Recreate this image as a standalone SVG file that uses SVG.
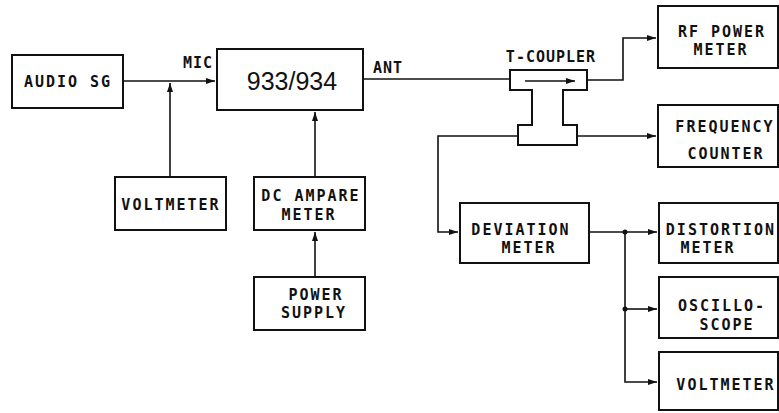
<svg xmlns="http://www.w3.org/2000/svg" width="779" height="413" viewBox="0 0 779 413">
<style>
.box{fill:#fff;stroke:#111;stroke-width:2}
.ln{fill:none;stroke:#111;stroke-width:1.6}
.t{font-family:"DejaVu Sans Mono","Liberation Mono",monospace;font-weight:bold;font-size:15px;letter-spacing:2px;fill:#111;text-anchor:middle}
.big{font-family:"Liberation Sans",Arial,sans-serif;font-size:25px;fill:#111;text-anchor:middle}
</style>
<defs>
<marker id="ar" markerWidth="10" markerHeight="8" refX="9" refY="4" orient="auto" markerUnits="userSpaceOnUse">
<path d="M0,1 L9,4 L0,7 Z" fill="#111"/>
</marker>
</defs>
<rect width="779" height="413" fill="#fff"/>
<g id="connectors">
<path class="ln" d="M123,81 H215" marker-end="url(#ar)"/>
<path class="ln" d="M170,177 V83" marker-end="url(#ar)"/>
<path class="ln" d="M315,177 V112" marker-end="url(#ar)"/>
<path class="ln" d="M315,277 V232" marker-end="url(#ar)"/>
<path class="ln" d="M363,79 H510"/>
<path class="ln" d="M587,80 H623 V38 H656" marker-end="url(#ar)"/>
<path class="ln" d="M577,136 H656" marker-end="url(#ar)"/>
<path class="ln" d="M518,136 H438 V232 H458" marker-end="url(#ar)"/>
<path class="ln" d="M589,232 H657" marker-end="url(#ar)"/>
<path class="ln" d="M625,232 V382 H657" marker-end="url(#ar)"/>
<path class="ln" d="M625,309 H657" marker-end="url(#ar)"/>
<circle cx="625" cy="232" r="2.5" fill="#111"/>
<circle cx="625" cy="309" r="2.5" fill="#111"/>
<text class="t" x="198" y="68" style="letter-spacing:1px">MIC</text>
<text class="t" x="388" y="73" style="letter-spacing:1px">ANT</text>
</g>
<g id="audio-sg"><rect class="box" x="12" y="55" width="111" height="53"/><text class="t" x="68" y="87">AUDIO SG</text></g>
<g id="dut"><rect class="box" x="217" y="49" width="146" height="61"/><text class="big" x="292" y="90">933/934</text></g>
<g id="voltmeter1"><rect class="box" x="115" y="177" width="111" height="53"/><text class="t" x="171" y="210">VOLTMETER</text></g>
<g id="dc-ampere"><rect class="box" x="254" y="177" width="111" height="53"/><text class="t" x="311" y="201">DC AMPARE</text><text class="t" x="309" y="220">METER</text></g>
<g id="power-supply"><rect class="box" x="254" y="277" width="111" height="53"/><text class="t" x="316" y="300">POWER</text><text class="t" x="314" y="318">SUPPLY</text></g>
<g id="t-coupler">
<path class="box" d="M510,70 H587 V90 H563 V125 H577 V145 H518 V125 H532 V90 H510 Z"/>
<path class="ln" d="M525,81 H575" marker-end="url(#ar)"/>
<text class="t" x="551" y="62" style="letter-spacing:1px">T-COUPLER</text>
</g>
<g id="rf-power"><rect class="box" x="658" y="6" width="120" height="62"/><text class="t" x="722" y="37">RF POWER</text><text class="t" x="721" y="55">METER</text></g>
<g id="freq-counter"><rect class="box" x="658" y="105" width="120" height="62"/><text class="t" x="725" y="132">FREQUENCY</text><text class="t" x="726" y="159">COUNTER</text></g>
<g id="deviation"><rect class="box" x="460" y="203" width="129" height="60"/><text class="t" x="521" y="235">DEVIATION</text><text class="t" x="529" y="253">METER</text></g>
<g id="distortion"><rect class="box" x="659" y="203" width="119" height="60"/><text class="t" x="721" y="235">DISTORTION</text><text class="t" x="708" y="253">METER</text></g>
<g id="oscilloscope"><rect class="box" x="659" y="277" width="119" height="61"/><text class="t" x="722" y="311">OSCILLO-</text><text class="t" x="727" y="330">SCOPE</text></g>
<g id="voltmeter2"><rect class="box" x="659" y="352" width="119" height="58"/><text class="t" x="726" y="390">VOLTMETER</text></g>
</svg>
